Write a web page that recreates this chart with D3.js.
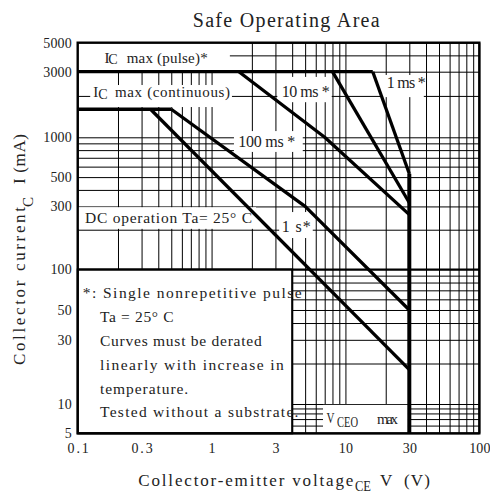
<!DOCTYPE html>
<html>
<head>
<meta charset="utf-8">
<script src="https://cdn.jsdelivr.net/npm/d3@7"></script>
<style>
  body { margin: 0; background: #fff; }
  svg text { font-family: "Liberation Serif", "DejaVu Serif", serif; fill: #222; white-space: pre; }
</style>
</head>
<body>
<div id="soa"></div>
<script>
// data (V in volts, I in mA)
const xTicks = [0.1, 0.3, 1, 3, 10, 30, 100];
const yTicks = [5, 10, 30, 50, 100, 300, 500, 1000, 3000, 5000];

const icPulse = [[0.1, 3000], [16, 3000]];
const icCont = [[0.1, 1600], [0.5, 1600]];
const t1ms = [[16, 3000], [30, 530]];
const t10ms = [[8, 3000], [30, 320]];
const t100ms = [[1.6, 3000], [7, 1000], [30, 260]];
const t1s = [[0.5, 1600], [5, 300], [30, 50]];
const dcOp = [[0.35, 1600], [30, 18]];
const vceoMax = [[30, 530], [30, 5]];

const notes = ["*: Single nonrepetitive pulse", "Ta = 25° C", "Curves must be derated",
    "linearly with increase in", "temperature.", "Tested without a substrate."];

// set the dimensions and margins of the graph
const margin = { top: 42.7, right: 10.7, bottom: 59.7, left: 77.7 },
    width = 490 - margin.left - margin.right,
    height = 493 - margin.top - margin.bottom;

const root = d3.select("#soa")
    .append("svg")
    .attr("width", 490)
    .attr("height", 493);

const svg = root.append("g")
    .attr("transform", `translate(${margin.left},${margin.top})`);

const x = d3.scaleLog().domain([0.1, 100]).range([0, width]);
// the printed axis is not quite uniform, so piecewise
const y = d3.scaleLog()
    .domain([5, 10, 100, 1000, 3000, 5000])
    .range([height, 361.3, 226.8, 94.6, 29, 0]);

// grid
svg.append("g")
    .attr("transform", `translate(0,${height})`)
    .call(d3.axisBottom(x).tickValues(x.ticks()).tickSize(-height).tickFormat(""))
    .call(g => g.select(".domain").remove())
    .selectAll("line").attr("stroke", "#000").attr("stroke-width", 1);
svg.append("g")
    .call(d3.axisLeft(y).tickValues(y.ticks()).tickSize(-width).tickFormat(""))
    .call(g => g.select(".domain").remove())
    .selectAll("line").attr("stroke", "#000").attr("stroke-width", 1);

// white boxes behind the labels
const boxes = [
    { v: [0.1, 1.37], i: [5000, 3000] },
    { v: [0.124, 1.42], i: [2400, 1660] },
    { v: [3.1, 7.9], i: [2750, 1800] },
    { v: [19, 38.5], i: [2840, 1960] },
    { v: [1.47, 4.8], i: [1110, 775] },
    { v: [0.1, 2.15], i: [296, 203] },
    { v: [3.2, 5.7], i: [272, 173] },
    { v: [6.8, 29.3], i: [9.8, 5] }
];
svg.selectAll(".box")
    .data(boxes)
    .join("rect")
    .attr("x", d => x(d.v[0]))
    .attr("y", d => y(d.i[0]))
    .attr("width", d => x(d.v[1]) - x(d.v[0]))
    .attr("height", d => y(d.i[1]) - y(d.i[0]))
    .attr("fill", "#fff");

// notes box (lower left)
svg.append("rect")
    .attr("x", x(0.1)).attr("y", y(100))
    .attr("width", x(4) - x(0.1)).attr("height", y(5) - y(100))
    .attr("fill", "#fff").attr("stroke", "#000").attr("stroke-width", 2);
svg.append("line")
    .attr("x1", 0).attr("x2", width).attr("y1", y(100)).attr("y2", y(100))
    .attr("stroke", "#000").attr("stroke-width", 2);

// SOA curves
const line = d3.line().x(d => x(d[0])).y(d => y(d[1]));
svg.selectAll(".soa")
    .data([icPulse, icCont, t1ms, t10ms, t100ms, t1s, dcOp])
    .join("path")
    .attr("d", line)
    .attr("fill", "none")
    .attr("stroke", "#000")
    .attr("stroke-width", 3.3)
    .attr("stroke-linejoin", "round");
svg.append("path")
    .datum(vceoMax)
    .attr("d", line)
    .attr("fill", "none")
    .attr("stroke", "#000")
    .attr("stroke-width", 4);

// frame
svg.append("rect")
    .attr("width", width).attr("height", height)
    .attr("fill", "none").attr("stroke", "#000").attr("stroke-width", 2.4);

// tick labels
svg.append("g")
    .call(d3.axisLeft(y).tickValues(yTicks).tickFormat(d => String(d)).tickSize(0).tickPadding(6))
    .call(g => g.select(".domain").remove())
    .selectAll("text")
    .attr("font-size", 14)
    .attr("textLength", d => String(d).length * 7.1)
    .attr("lengthAdjust", "spacing");
svg.append("g")
    .attr("transform", `translate(0,${height})`)
    .call(d3.axisBottom(x).tickValues(xTicks).tickFormat(d => String(d)).tickSize(0).tickPadding(9.8))
    .call(g => g.select(".domain").remove())
    .selectAll("text")
    .attr("font-size", 14)
    .attr("textLength", d => String(d).length * 7.1)
    .attr("lengthAdjust", "spacing");

function label(px, py, s, size, len, parent, squeeze) {
    const t = (parent || root).append("text")
        .attr("x", px).attr("y", py)
        .attr("font-size", size)
        .text(s);
    if (len) t.attr("textLength", len).attr("lengthAdjust", squeeze ? "spacingAndGlyphs" : "spacing");
    return t;
}

// title
label(192.7, 26.5, "Safe Operating Area", 20, 187);

// curve labels
label(104.5, 62.7, "I", 15);
label(108.3, 64.2, "C", 14);
label(126.7, 62.7, "max (pulse)*", 15, 81);
label(93.3, 97.3, "I", 15);
label(98.3, 98.8, "C", 14);
label(115, 97.3, "max (continuous)", 15, 115);
label(281.7, 97.3, "10 ms *", 16, 48);
label(386.7, 88.3, "1 ms *", 16, 39);
label(238.3, 146.7, "100 ms *", 16, 57);
label(85, 222.7, "DC operation Ta= 25° C", 15.5, 167);
label(281.7, 231.7, "1 s*", 16, 29);
label(326.5, 423.3, "V", 14, 8, null, true);
label(337, 426.5, "CEO", 14, 21, null, true);
label(377, 424, "max", 15, 21);

// notes
notes.forEach((s, k) => {
    label(k === 0 ? 82.7 : 100, 298.3 + k * 23.8, s, 15.5, s.length * (k === 0 ? 7.55 : 7.35));
});

// axis titles
label(138.3, 486, "Collector-emitter voltage", 17, 215);
label(355, 491, "CE", 14, 16, null, true);
label(380, 486, "V  (V)", 17, 50);

const yt = root.append("g").attr("transform", "translate(25,365) rotate(-90)");
label(0, 0, "Collector current", 17, 158, yt);
label(158, 8, "C", 15, 10, yt);
label(181, 0, "I (mA)", 17, 50, yt);
</script>
</body>
</html>
